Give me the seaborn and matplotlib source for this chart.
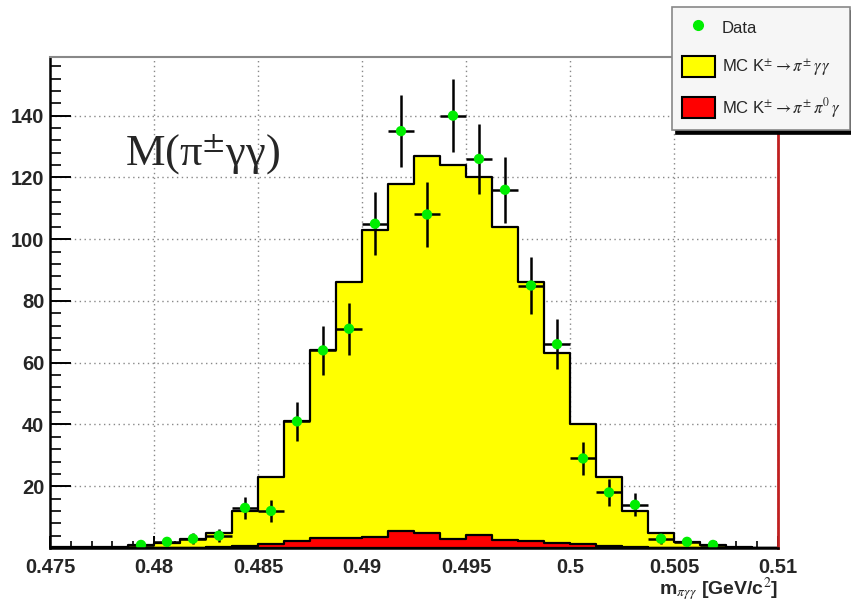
import numpy as np
import pandas as pd
import matplotlib
matplotlib.use("Agg")
import matplotlib.pyplot as plt
from matplotlib.lines import Line2D
from matplotlib.patches import Patch
from matplotlib.ticker import MultipleLocator
import seaborn as sns

# ------------------------------------------------------------
# Data
# ------------------------------------------------------------
BIN_LO, BIN_HI, N_BINS = 0.475, 0.51, 28

# stacked MC total (K -> pi gamma gamma on top of K -> pi pi0 gamma), per bin
mc_total = [0.2, 0.2, 0.3, 1, 1.5, 3, 5, 12, 23, 41, 64, 86, 103, 118,
            127, 124, 120, 104, 86, 63, 40, 23, 12, 5, 2, 1, 0.3, 0]
# background MC K -> pi pi0 gamma, per bin
mc_pi0g = [0, 0, 0, 0, 0, 0, 0.2, 0.5, 1.3, 2.3, 3.2, 3.4, 3.6, 5.5,
           5, 3, 4.2, 2.6, 2.3, 1.6, 1.3, 0.6, 0.2, 0, 0, 0, 0, 0]
# data counts, bins 3..25
data_first_bin = 3
data_counts = [1, 2, 3, 4, 13, 12, 41, 64, 71, 105, 135, 108, 140, 126,
               116, 85, 66, 29, 18, 14, 3, 2, 1]

x_ticks = [0.475, 0.48, 0.485, 0.49, 0.495, 0.5, 0.505, 0.51]
x_tick_labels = ["0.475", "0.48", "0.485", "0.49", "0.495", "0.5", "0.505", "0.51"]
y_ticks = [20, 40, 60, 80, 100, 120, 140]

# ------------------------------------------------------------
# Binning
# ------------------------------------------------------------
edges = np.linspace(BIN_LO, BIN_HI, N_BINS + 1)
centers = 0.5 * (edges[:-1] + edges[1:])
width = edges[1] - edges[0]

hist = pd.DataFrame({"x": centers, "total": mc_total, "pi0g": mc_pi0g})
data = pd.DataFrame({
    "x": centers[data_first_bin:data_first_bin + len(data_counts)],
    "n": data_counts,
})
data["err"] = np.sqrt(data["n"])

YELLOW = "#ffff00"
RED = "#ff0000"
GREEN = "#00ee00"

sns.set_style("ticks")
plt.rcParams["font.family"] = ["Liberation Sans", "DejaVu Sans"]
plt.rcParams["mathtext.fontset"] = "stix"

fig = plt.figure(figsize=(8.51, 6.02), dpi=100)
ax = fig.add_axes([50 / 851, 54 / 602, 728 / 851, 491 / 602])

# stacked MC histograms (total drawn first, background on top)
sns.histplot(data=hist, x="x", weights="total", bins=N_BINS,
             binrange=(BIN_LO, BIN_HI), element="step",
             fill=True, color=YELLOW, alpha=1, edgecolor="black",
             linewidth=1.6, ax=ax, zorder=2)
sns.histplot(data=hist, x="x", weights="pi0g", bins=N_BINS,
             binrange=(BIN_LO, BIN_HI), element="step",
             fill=True, color=RED, alpha=1, edgecolor="black",
             linewidth=1.6, ax=ax, zorder=3)

# data points with error bars
ax.errorbar(data["x"], data["n"], xerr=width / 2, yerr=data["err"],
            fmt="none", ecolor="black", elinewidth=1.8, capsize=0, zorder=4)
sns.scatterplot(data=data, x="x", y="n", color=GREEN, s=55,
                edgecolor="none", ax=ax, zorder=5)

ax.set_xlim(BIN_LO, BIN_HI)
ax.set_ylim(0, 159)

ax.set_xticks(x_ticks)
ax.set_xticklabels(x_tick_labels)
ax.set_yticks(y_ticks)
ax.xaxis.set_minor_locator(MultipleLocator(0.001))
ax.yaxis.set_minor_locator(MultipleLocator(4))
ax.tick_params(axis="both", which="both", direction="in", color="black",
               top=False, right=False)
ax.tick_params(axis="x", which="major", length=9, width=1.4, pad=7,
               labelsize=14.5)
ax.tick_params(axis="x", which="minor", length=5, width=1.2)
ax.tick_params(axis="y", which="major", length=15, width=1.4, pad=4,
               labelsize=14.5)
ax.tick_params(axis="y", which="minor", length=8, width=1.2)
for lab in ax.get_xticklabels() + ax.get_yticklabels():
    lab.set_fontweight("bold")

ax.grid(True, which="major", color="#888888", linestyle=(0, (1, 2.5)),
        linewidth=1.0, zorder=1)
ax.set_axisbelow(True)

ax.spines["left"].set_color("black")
ax.spines["left"].set_linewidth(1.8)
ax.spines["bottom"].set_color("black")
ax.spines["bottom"].set_linewidth(1.8)
ax.spines["top"].set_color("#888888")
ax.spines["top"].set_linewidth(1.5)
ax.spines["right"].set_color("#c02020")
ax.spines["right"].set_linewidth(2.0)
for sp in ax.spines.values():
    sp.set_zorder(6)

ax.set_ylabel("")
ax.set_xlabel(r"m$_{\pi\gamma\gamma}$ [GeV/c$^{2}$]", fontsize=14,
              fontweight="bold", ha="right", va="top")
ax.xaxis.set_label_coords(1.0, -0.055)

ax.text(0.4786, 124, r"M(π$^{\pm}$γγ)", fontsize=32,
        family="Liberation Serif", va="baseline", ha="left", zorder=7)

handles = [
    Line2D([], [], linestyle="none", marker="o", markersize=7,
           markerfacecolor=GREEN, markeredgecolor=GREEN),
    Patch(facecolor=YELLOW, edgecolor="black", linewidth=1.5),
    Patch(facecolor=RED, edgecolor="black", linewidth=1.5),
]
labels = [
    "Data",
    r"MC K$^{\pm}\rightarrow\pi^{\pm}\,\gamma\,\gamma$",
    r"MC K$^{\pm}\rightarrow\pi^{\pm}\,\pi^{0}\,\gamma$",
]
leg = fig.legend(handles, labels, loc="upper left",
                 bbox_to_anchor=(672 / 851, 1 - 7 / 602),
                 fontsize=12, frameon=True, fancybox=False,
                 facecolor="#f6f6f6", edgecolor="#888888", framealpha=1,
                 shadow={"ox": 3, "oy": -3, "color": "black", "alpha": 1},
                 handlelength=1.95, handleheight=1.6, handletextpad=0.45,
                 labelspacing=1.05, borderpad=0.6, borderaxespad=0)
leg.get_frame().set_linewidth(1.2)

fig.savefig("out.png", dpi=100)
